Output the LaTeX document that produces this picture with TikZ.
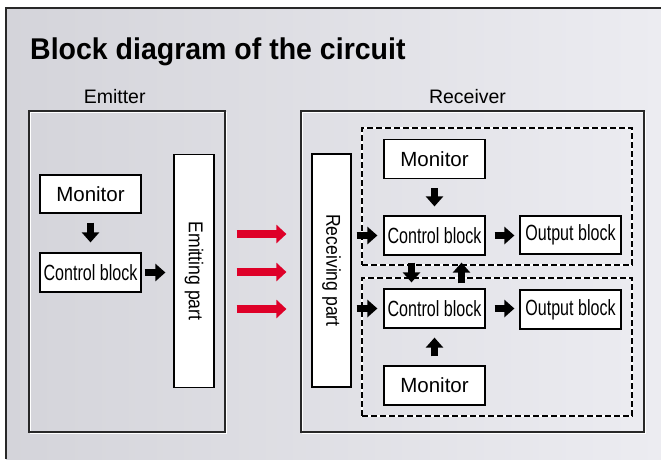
\documentclass[tikz,border=0pt]{standalone}
\usepackage{fontspec}
\setmainfont{Liberation Sans}
\newfontfamily\titlefnt{Liberation Sans}[FakeStretch=0.95]
\newfontfamily\condfnt{Liberation Sans}[FakeStretch=0.73]
\newfontfamily\vertfnt{Liberation Sans}[FakeStretch=0.88]
\usetikzlibrary{arrows.meta,calc}
\definecolor{bgl}{RGB}{212,212,218}
\definecolor{bgr}{RGB}{236,236,241}
\definecolor{redarrow}{RGB}{222,0,40}
\definecolor{framec}{RGB}{40,40,40}
\begin{document}
\begin{tikzpicture}[x=1pt,y=-1pt,
  box/.style={draw=black, line width=1.2pt, fill=white, inner sep=0pt,
    minimum width=101pt, minimum height=39pt},
  montxt/.style={font=\fontsize{20.5pt}{22pt}\selectfont},
  cbtxt/.style={font=\condfnt\fontsize{22pt}{24pt}\selectfont},
  vbox/.style={draw=black, line width=1.2pt, fill=white, inner sep=0pt,
    minimum width=233pt, minimum height=39pt, rotate=-90,
    font=\vertfnt\fontsize{20pt}{22pt}\selectfont},
  bigbox/.style={draw=framec, line width=1.3pt, inner sep=0pt,
    preaction={draw=white, line width=1.2pt, transform canvas={xshift=1.3pt, yshift=-1.3pt}}},
  dbox/.style={draw=white, line width=2.4pt, inner sep=0pt,
    postaction={draw=black, line width=1.1pt, dash pattern=on 6pt off 3pt}},
  lbl/.style={anchor=base, font=\fontsize{19.5pt}{22pt}\selectfont},
  blk/.style={draw=black, line width=7pt, -{Triangle[length=10pt,width=17pt]}},
  redarr/.style={draw=redarrow, line width=8pt, -{Triangle[length=10pt,width=18pt]}}
]
\useasboundingbox (0,0) rectangle (661,459);
\fill[white] (0,0) rectangle (661,459);
\shade[left color=bgl, right color=bgr] (6,8) rectangle (661,459);
\draw[framec, line width=1.4pt] (6,459) -- (6,8) -- (661,8);

% title
\node[anchor=base west, inner sep=0pt, font=\titlefnt\bfseries\fontsize{30pt}{34pt}\selectfont] (title) at (30,59.5) {Block diagram of the circuit};

% emitter
\node[lbl] (emitterlbl) at (114.7,103.3) {Emitter};
\node[bigbox, minimum width=196pt, minimum height=321pt] (emitter) at (127,271.5) {};
\node[box, montxt, minimum height=38pt] (emon) at (90.5,194) {Monitor};
\node[box, cbtxt] (ectrl) at (90.5,272.5) {Control block};
\node[vbox, minimum height=40pt] (emit) at (194,271) {Emitting part};

% receiver
\node[lbl] (receiverlbl) at (467.5,103.3) {Receiver};
\node[bigbox, minimum width=343pt, minimum height=321pt] (receiver) at (472.5,271.5) {};
\node[vbox] (recv) at (331.5,270.5) {Receiving part};
\node[dbox, minimum width=270pt, minimum height=137pt] (udash) at (497,196.5) {};
\node[dbox, minimum width=270pt, minimum height=138pt] (ldash) at (497,347) {};

\node[box, montxt] (umon) at (434.5,159) {Monitor};
\node[box, cbtxt] (uctrl) at (434.5,235.5) {Control block};
\node[box, cbtxt, minimum height=38pt] (uout) at (570.5,235) {Output block};
\node[box, cbtxt] (lctrl) at (434.5,308.5) {Control block};
\node[box, cbtxt] (lout) at (570.5,309.5) {Output block};
\node[box, montxt] (lmon) at (434.5,385.5) {Monitor};

% emitter arrows (rotated boxes: north = right side, south = left side)
\draw[blk, shorten <=9pt, shorten >=10pt] (emon.south) -- (ectrl.north);
\draw[blk, shorten <=3pt, shorten >=8pt] (ectrl.east) -- (ectrl.east -| emit.south);

% red arrows
\draw[redarr, shorten <=22pt, shorten >=25pt] ([yshift=37pt]emit.north) -- ([yshift=37pt]emit.north -| recv.south);
\draw[redarr, shorten <=22pt, shorten >=25pt] ([yshift=-1pt]emit.north) -- ([yshift=-1pt]emit.north -| recv.south);
\draw[redarr, shorten <=22pt, shorten >=25pt] ([yshift=-38pt]emit.north) -- ([yshift=-38pt]emit.north -| recv.south);

% receiver arrows
\draw[blk, shorten <=5pt, shorten >=6pt] (uctrl.west -| recv.north) -- (uctrl.west);
\draw[blk, shorten <=5pt, shorten >=6pt] (lctrl.west -| recv.north) -- (lctrl.west);
\draw[blk, shorten <=9pt, shorten >=5pt] (uctrl.east) -- (uctrl.east -| uout.west);
\draw[blk, shorten <=9pt, shorten >=5pt] (lctrl.east) -- (lctrl.east -| lout.west);
\draw[blk, shorten <=9pt, shorten >=9pt] (umon.south) -- (uctrl.north);
\draw[blk, shorten <=9pt, shorten >=9pt] (lmon.north) -- (lctrl.south);
\draw[blk, shorten <=7pt, shorten >=6pt] ([xshift=-23pt]uctrl.south) -- ([xshift=-23pt]lctrl.north);
\draw[blk, shorten <=5pt, shorten >=7pt] ([xshift=27pt]lctrl.north) -- ([xshift=27pt]uctrl.south);
\end{tikzpicture}
\end{document}
